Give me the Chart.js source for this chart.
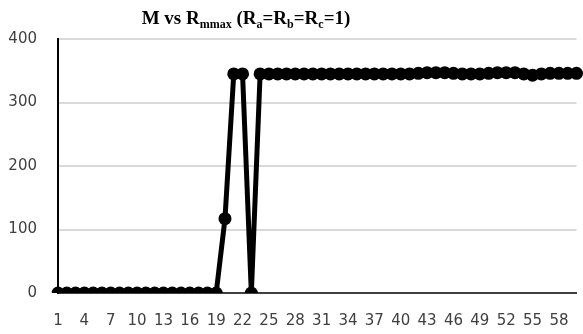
<!DOCTYPE html>
<html>
<head>
<meta charset="utf-8">
<script src="https://cdn.jsdelivr.net/npm/chart.js@4/dist/chart.umd.min.js"></script>
<style>
    html, body { margin: 0; padding: 0; background: #fff; overflow: hidden; }
    #wrap { position: relative; width: 583px; height: 334px; }
    #chart { display: block; }
    #chartTitle {
        position: absolute; left: 0; top: 7px; width: 492px;
        text-align: center; font-family: "Liberation Serif", serif;
        font-weight: bold; font-size: 19px; color: #000; line-height: 22px;
    }
    #chartTitle sub { font-size: 12px; vertical-align: -4px; line-height: 0; }
</style>
</head>
<body>
<div id="wrap">
    <div id="chartTitle">M vs R<sub>mmax</sub> (R<sub>a</sub>=R<sub>b</sub>=R<sub>c</sub>=1)</div>
    <canvas id="chart" width="583" height="334"></canvas>
</div>
<script>
// Category labels (1..60)
const categories = [
    1, 2, 3, 4, 5, 6, 7, 8, 9, 10,
    11, 12, 13, 14, 15, 16, 17, 18, 19, 20,
    21, 22, 23, 24, 25, 26, 27, 28, 29, 30,
    31, 32, 33, 34, 35, 36, 37, 38, 39, 40,
    41, 42, 43, 44, 45, 46, 47, 48, 49, 50,
    51, 52, 53, 54, 55, 56, 57, 58, 59, 60
];

// R_mmax values
const rmmaxValues = [
    0, 0, 0, 0, 0, 0, 0, 0, 0, 0,
    0, 0, 0, 0, 0, 0, 0, 0, 0, 117,
    345, 345, 0, 345, 345, 345, 345, 345, 345, 345,
    345, 345, 345, 345, 345, 345, 345, 345, 345, 345,
    345, 346, 347, 347, 347, 346, 345, 345, 345, 346,
    347, 347, 347, 345, 343, 345, 346, 346, 346, 346
];

const yTicks = [0, 100, 200, 300, 400];

const ctx = document.getElementById('chart').getContext('2d');

new Chart(ctx, {
    type: 'line',
    data: {
        labels: categories,
        datasets: [{
            data: rmmaxValues,
            borderColor: '#000',
            backgroundColor: '#000',
            borderWidth: 5,
            pointRadius: 6.5,
            pointBorderWidth: 0,
            tension: 0
        }]
    },
    options: {
        responsive: false,
        animation: false,
        layout: { padding: { left: 8, top: 39, right: 4, bottom: 0 } },
        plugins: {
            legend: { display: false },
            tooltip: { enabled: false },
            title: { display: false }
        },
        scales: {
            x: {
                offset: false,
                afterFit: function(axis) {
                    axis.height = 41;
                    axis.paddingLeft = 0;
                    axis.paddingRight = 0;
                },
                grid: { display: false, drawTicks: false },
                border: { color: '#404040', width: 2 },
                ticks: {
                    autoSkip: false,
                    maxRotation: 0,
                    padding: 19,
                    color: '#404040',
                    font: { family: 'DejaVu Sans', size: 15 },
                    callback: function(value, index) {
                        return index % 3 === 0 && index < 58 ? categories[index] : '';
                    }
                }
            },
            y: {
                min: 0,
                max: 400,
                afterBuildTicks: function(axis) {
                    axis.ticks = yTicks.map(v => ({ value: v }));
                },
                afterFit: function(axis) {
                    axis.width = 50;
                },
                grid: { color: '#d9d9d9', lineWidth: 2, drawTicks: false },
                border: { color: '#000', width: 2 },
                ticks: {
                    padding: 21,
                    color: '#404040',
                    font: { family: 'DejaVu Sans', size: 15 }
                }
            }
        }
    }
});
</script>
</body>
</html>
